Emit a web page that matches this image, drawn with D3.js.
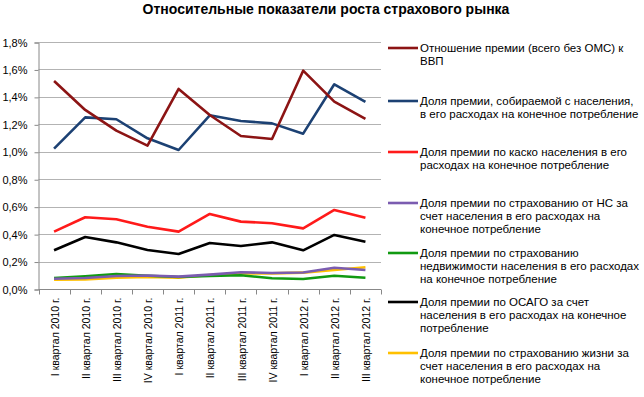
<!DOCTYPE html>
<html>
<head>
<meta charset="utf-8">
<title>Относительные показатели роста страхового рынка</title>
<script src="https://d3js.org/d3.v7.min.js"></script>
<style>
  body { margin: 0; background: #fff; }
  text { font-family: "Liberation Sans", Arial, sans-serif; fill: #000; }
</style>
</head>
<body>
<div id="chart"></div>
<script>
// quarters on the x axis
const quarters = ["I квартал 2010 г.", "II квартал 2010 г.", "III квартал 2010 г.", "IV квартал 2010 г.",
  "I квартал 2011 г.", "II квартал 2011 г.", "III квартал 2011 г.", "IV квартал 2011 г.",
  "I квартал 2012 г.", "II квартал 2012 г.", "III квартал 2012 г."];

// values in percent
const premGdp   = [1.516, 1.305, 1.154, 1.045, 1.458, 1.268, 1.115, 1.093, 1.591, 1.365, 1.239];
const premPop   = [1.023, 1.251, 1.237, 1.098, 1.013, 1.266, 1.224, 1.207, 1.132, 1.492, 1.363];
const kasko     = [0.418, 0.523, 0.508, 0.454, 0.418, 0.547, 0.491, 0.479, 0.442, 0.576, 0.520];
const accident  = [0.075, 0.080, 0.095, 0.098, 0.090, 0.105, 0.122, 0.117, 0.120, 0.155, 0.138];
const property  = [0.080, 0.092, 0.109, 0.097, 0.087, 0.095, 0.100, 0.078, 0.073, 0.097, 0.082];
const osago     = [0.282, 0.379, 0.340, 0.284, 0.255, 0.335, 0.313, 0.340, 0.282, 0.394, 0.345];
const life      = [0.068, 0.070, 0.082, 0.087, 0.082, 0.102, 0.114, 0.114, 0.119, 0.138, 0.158];

const yTicks = [0, 0.2, 0.4, 0.6, 0.8, 1.0, 1.2, 1.4, 1.6, 1.8];

const seriesNames = [
  ["Отношение премии (всего без ОМС) к", "ВВП"],
  ["Доля премии, собираемой с населения,", "в его расходах на конечное потребление"],
  ["Доля премии по каско населения в его", "расходах на конечное потребление"],
  ["Доля премии по страхованию от НС за", "счет населения в его расходах на", "конечное потребление"],
  ["Доля премии по страхованию", "недвижимости населения в его расходах", "на конечное потребление"],
  ["Доля премии по ОСАГО за счет", "населения в его расходах на конечное", "потребление"],
  ["Доля премии по страхованию жизни за", "счет населения в его расходах на", "конечное потребление"]
];
const colors = ["#8c1414", "#1c4173", "#ff1a1a", "#7b5cb0", "#119a11", "#000000", "#ffc000"];

const series = [premGdp, premPop, kasko, accident, property, osago, life].map((v, i) => ({
  name: seriesNames[i], color: colors[i], values: v
}));

const W = 644, H = 397;
const plot = {left: 38.5, right: 381, top: 42, bottom: 289};

const svg = d3.select("#chart").append("svg")
  .attr("width", W).attr("height", H);

const x = d3.scaleBand().domain(quarters).range([plot.left, plot.right]);
const y = d3.scaleLinear().domain([0, 1.8]).range([plot.bottom, plot.top]);

const ru = d3.formatLocale({decimal: ",", thousands: " ", grouping: [3], currency: ["", ""]});
const fmt = v => ru.format(".1f")(v) + "%";

// title
svg.append("text")
  .attr("x", 326).attr("y", 14)
  .attr("text-anchor", "middle")
  .style("font-size", "14px").style("font-weight", "bold")
  .text("Относительные показатели роста страхового рынка");

// gridlines
svg.append("g").selectAll("line")
  .data(yTicks.filter(d => d > 0))
  .join("line")
    .attr("x1", plot.left).attr("x2", plot.right)
    .attr("y1", d => Math.round(y(d)) + 0.5).attr("y2", d => Math.round(y(d)) + 0.5)
    .attr("stroke", "#b3b3b3");

// y axis
const yAxis = svg.append("g")
  .attr("transform", `translate(${plot.left},0.5)`)
  .call(d3.axisLeft(y).tickValues(yTicks).tickFormat(fmt).tickSize(4).tickPadding(7));
yAxis.select(".domain").attr("stroke", "#888");
yAxis.selectAll(".tick line").attr("stroke", "#888");
yAxis.selectAll(".tick text").style("font-size", "11px").style("font-family", "Liberation Sans, Arial, sans-serif");

// x axis (ticks between categories)
const xg = svg.append("g").attr("transform", `translate(0,${Math.round(plot.bottom) + 0.5})`);
xg.append("line").attr("x1", plot.left).attr("x2", plot.right).attr("stroke", "#888");
xg.selectAll("line.tk")
  .data(quarters.concat(["end"]))
  .join("line").attr("class", "tk")
    .attr("x1", (d, i) => Math.round(plot.left + i * x.bandwidth()) + 0.5)
    .attr("x2", (d, i) => Math.round(plot.left + i * x.bandwidth()) + 0.5)
    .attr("y1", 0).attr("y2", 5).attr("stroke", "#888");
xg.selectAll("text")
  .data(quarters)
  .join("text")
    .attr("transform", d => `translate(${x(d) + x.bandwidth() / 2 + 1},8) rotate(-90)`)
    .attr("text-anchor", "end")
    .attr("dy", "0.35em")
    .style("font-size", "10.5px")
    .text(d => d);

// lines
const line = d3.line()
  .x((d, i) => x(quarters[i]) + x.bandwidth() / 2)
  .y(d => y(d));

svg.append("g").selectAll("path")
  .data(series.slice().reverse())
  .join("path")
    .attr("d", d => line(d.values))
    .attr("fill", "none")
    .attr("stroke", d => d.color)
    .attr("stroke-width", 2.6)
    .attr("stroke-linejoin", "round");

// legend
const legendY = [48, 101, 152, 203, 253, 302, 353];
const lg = svg.append("g").selectAll("g")
  .data(series)
  .join("g")
    .attr("transform", (d, i) => `translate(388,${legendY[i]})`);
lg.append("line")
  .attr("x1", 0).attr("x2", 30)
  .attr("stroke", d => d.color).attr("stroke-width", 2.6);
lg.append("text")
  .style("font-size", "11.5px")
  .selectAll("tspan")
  .data(d => d.name)
  .join("tspan")
    .attr("x", 32)
    .attr("y", (d, i) => i * 12.8)
    .attr("dy", "0.35em")
    .text(d => d);
</script>
</body>
</html>
